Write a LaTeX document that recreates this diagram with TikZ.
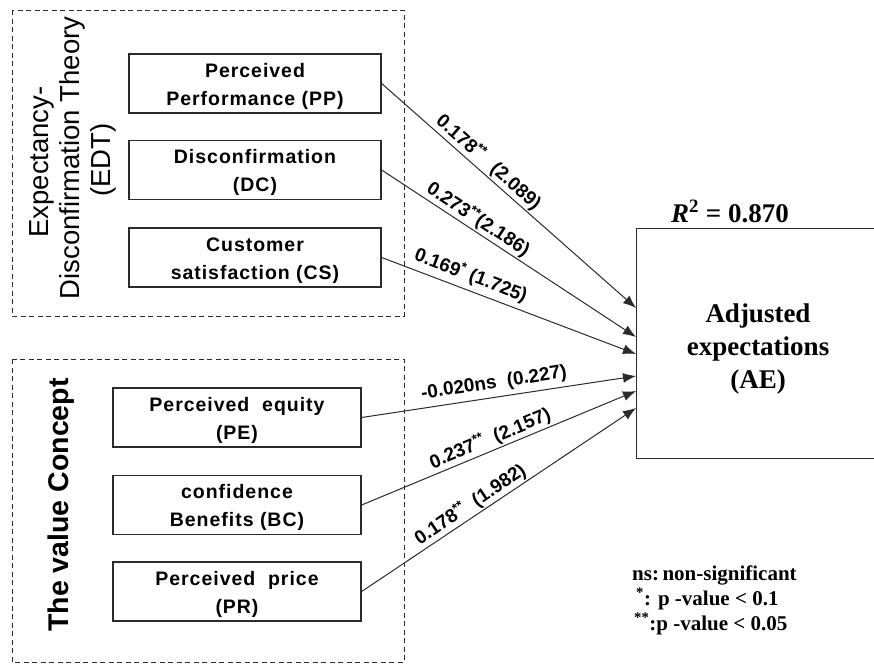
\documentclass[tikz,border=0pt]{standalone}
\usepackage{fontspec}
\usetikzlibrary{arrows.meta}
\newfontfamily\sansfam{Liberation Sans}
\newfontfamily\spacedsans[LetterSpace=5]{Liberation Sans}
\newfontfamily\seriffam{Liberation Serif}
\definecolor{ink}{HTML}{2B2B2B}

\begin{document}
\begin{tikzpicture}[x=1pt,y=-1pt,
  cluster/.style={draw=ink, line width=0.9pt, dash pattern=on 5pt off 3.5pt},
  construct/.style={draw=ink, line width=1.3pt, minimum height=59pt, inner sep=0pt,
    text height=48pt, text depth=5pt, align=center, text=black,
    font=\spacedsans\bfseries\fontsize{19.5}{28}\selectfont},
  topbox/.style={construct, minimum width=252pt},
  lowbox/.style={construct, minimum width=248pt},
  effect/.style={draw=ink, line width=1pt, -{Latex[length=13pt,width=10pt]}},
  coef/.style={sloped, above, inner sep=1.5pt, text=black,
    font=\sansfam\bfseries\fontsize{19}{22}\selectfont},
  theory/.style={rotate=90, anchor=base, text=black,
    font=\sansfam\fontsize{27.5}{32}\selectfont},
  legend/.style={anchor=base west, inner sep=0pt, text=black,
    font=\seriffam\bfseries\fontsize{21}{24}\selectfont}
]
\useasboundingbox (0,0) rectangle (874,664);
\fill[white] (0,0) rectangle (874,664);

% dashed frames of the two theory groups
\draw[cluster] (12,10) rectangle (404,316);
\draw[cluster] (12,359) rectangle (404,662);

% group titles
\node[theory] (edt1) at (48,162) {Expectancy-};
\node[theory] (edt2) at (79,158) {Disconfirmation Theory};
\node[theory] (edt3) at (110,160) {(EDT)};
\node[rotate=90, anchor=base, text=black,
      font=\sansfam\bfseries\fontsize{28.5}{30}\selectfont] (vc) at (68,505) {The value Concept};

% constructs
\node[topbox] (pp) at (255,83.5) {Perceived\\Performance (PP)};
\node[topbox] (dc) at (255,170) {Disconfirmation\\(DC)};
\node[topbox] (cs) at (255,257.5) {Customer\\satisfaction (CS)};
\node[lowbox] (pe) at (237,417.5) {Perceived\ \ equity\\(PE)};
\node[lowbox] (bc) at (237,505) {confidence\\Benefits (BC)};
\node[lowbox] (pr) at (237,591.5) {Perceived\ \ price\\(PR)};

% dependent construct
\node[draw=ink, line width=1.3pt, minimum width=260pt, minimum height=230pt,
      anchor=north west, inner sep=0pt] (ae) at (636,228) {};
\node[align=center, text=black, font=\seriffam\bfseries\fontsize{27}{33}\selectfont]
      (aetext) at (758,349) {Adjusted\\expectations\\(AE)};
\node[anchor=base, text=black, font=\seriffam\bfseries\fontsize{27}{30}\selectfont]
      (rsq) at (730,222) {\textit{R}\textsuperscript{2} = 0.870};

% arrow entry points on the left side of AE
\coordinate (inPP) at (636,308);
\coordinate (inDC) at (636,337);
\coordinate (inCS) at (636,354);
\coordinate (inPE) at (636,376);
\coordinate (inBC) at (636,391);
\coordinate (inPR) at (636,408);

% paths with coefficients and t-values
\draw[effect] (pp.east) -- node[coef, pos=0.39] {0.178\textsuperscript{**}\hspace{14pt}(2.089)} (inPP);
\draw[effect] (dc.east) -- node[coef, pos=0.355] {0.273\textsuperscript{**}(2.186)} (inDC);
\draw[effect] (cs.east) -- node[coef, pos=0.33, yshift=3pt] {0.169\textsuperscript{*} (1.725)} (inCS);
\draw[effect] (pe.east) -- node[coef, pos=0.49, yshift=3pt] {-0.020ns\ \ (0.227)} (inPE);
\draw[effect] (bc.east) -- node[coef, pos=0.485] {0.237\textsuperscript{**}\ \ (2.157)} (inBC);
\draw[effect] (pr.east) -- node[coef, pos=0.42] {0.178\textsuperscript{**}\ \ (1.982)} (inPR);

% significance legend
\node[legend] (lg1) at (632,580) {ns:\,non-significant};
\node[legend] (lg2) at (636,605) {\textsuperscript{*}: p -value < 0.1};
\node[legend] (lg3) at (634,630) {\textsuperscript{**}:p -value < 0.05};
\end{tikzpicture}
\end{document}
